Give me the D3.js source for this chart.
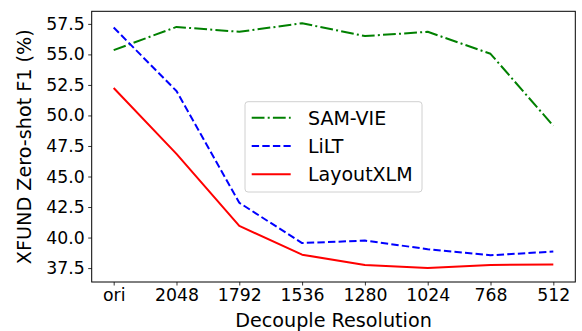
<!DOCTYPE html>
<html>
<head>
<meta charset="utf-8">
<script src="https://cdn.jsdelivr.net/npm/d3@7"></script>
<style>
  html, body { margin: 0; padding: 0; background: #fff; }
  svg { display: block; font-family: "DejaVu Sans", sans-serif; }
</style>
</head>
<body>
<svg id="chart" width="582" height="331"></svg>
<script>
// ---- data ----
const categories = ["ori", "2048", "1792", "1536", "1280", "1024", "768", "512"];
const samVie = [55.35, 57.25, 56.85, 57.55, 56.5, 56.85, 55.05, 49.15];
const lilt = [57.2, 52.0, 42.85, 39.55, 39.75, 39.05, 38.55, 38.85];
const layoutXlm = [52.25, 46.85, 40.95, 38.6, 37.75, 37.5, 37.75, 37.8];
const yTicks = [37.5, 40.0, 42.5, 45.0, 47.5, 50.0, 52.5, 55.0, 57.5];
const seriesNames = ["SAM-VIE", "LiLT", "LayoutXLM"];

// ---- layout ----
const W = 582, H = 331;
const plot = { left: 91.7, right: 575.3, top: 11.3, bottom: 282 };
const svg = d3.select("#chart");

const x = d3.scalePoint().domain(categories).range([plot.left, plot.right]).padding(0.35);
const y = d3.scaleLinear().domain([36.36, 58.53]).range([plot.bottom, plot.top]);

const series = [
  { name: seriesNames[0], values: samVie, color: "#008000", dash: "12.8,3.2,2,3.2" },
  { name: seriesNames[1], values: lilt, color: "#0000ff", dash: "7.4,3.2" },
  { name: seriesNames[2], values: layoutXlm, color: "#ff0000", dash: null }
];

// axes
const xAxis = d3.axisBottom(x).tickSize(3.5).tickPadding(3.5);
const yAxis = d3.axisLeft(y).tickValues(yTicks).tickFormat(d3.format(".1f")).tickSize(3.5).tickPadding(3.5);

const gx = svg.append("g").attr("transform", `translate(0,${plot.bottom})`).call(xAxis);
const gy = svg.append("g").attr("transform", `translate(${plot.left},0)`).call(yAxis);
[gx, gy].forEach(g => {
  g.select(".domain").remove();
  g.selectAll(".tick line").attr("stroke", "#000").attr("stroke-width", 0.8);
  g.selectAll(".tick text").attr("fill", "#000").style("font-size", "17.3px").style("font-family", "DejaVu Sans");
});

// lines
const line = d3.line().x((d, i) => x(categories[i])).y(d => y(d));
series.forEach(s => {
  svg.append("path")
    .datum(s.values)
    .attr("d", line)
    .attr("fill", "none")
    .attr("stroke", s.color)
    .attr("stroke-width", 2)
    .attr("stroke-dasharray", s.dash)
    .attr("stroke-linejoin", "round");
});

// frame
svg.append("rect")
  .attr("x", plot.left).attr("y", plot.top)
  .attr("width", plot.right - plot.left).attr("height", plot.bottom - plot.top)
  .attr("fill", "none").attr("stroke", "#000").attr("stroke-width", 1);

// axis labels
svg.append("text")
  .attr("x", (plot.left + plot.right) / 2).attr("y", 327)
  .attr("text-anchor", "middle").style("font-size", "19.2px")
  .text("Decouple Resolution");
svg.append("text")
  .attr("transform", `translate(30.5,${(plot.top + plot.bottom) / 2}) rotate(-90)`)
  .attr("text-anchor", "middle").style("font-size", "19.2px")
  .text("XFUND Zero-shot F1 (%)");

// legend
const lg = svg.append("g");
lg.append("rect")
  .attr("x", 245).attr("y", 101.7).attr("width", 177).attr("height", 90.3)
  .attr("rx", 3).attr("fill", "#fff").attr("fill-opacity", 0.8)
  .attr("stroke", "#d0d0d0").attr("stroke-width", 1);
const rowY = [117.7, 146, 174.3];
series.forEach((s, i) => {
  lg.append("line")
    .attr("x1", 251.7).attr("x2", 290.7).attr("y1", rowY[i]).attr("y2", rowY[i])
    .attr("stroke", s.color).attr("stroke-width", 2).attr("stroke-dasharray", s.dash);
  lg.append("text")
    .attr("x", 308).attr("y", rowY[i]).attr("dy", "0.36em")
    .style("font-size", "19px").text(s.name);
});
</script>
</body>
</html>
